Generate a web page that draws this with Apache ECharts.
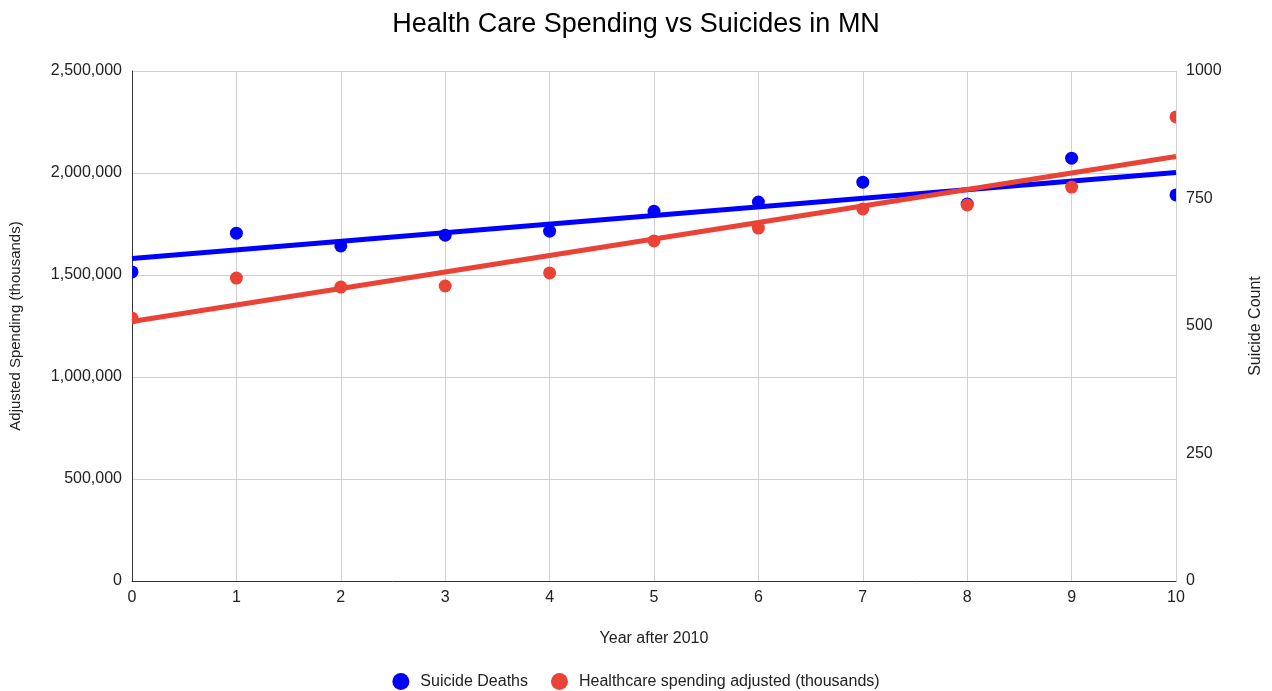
<!DOCTYPE html>
<html>
<head>
<meta charset="utf-8">
<script src="https://cdn.jsdelivr.net/npm/echarts@6/dist/echarts.min.js"></script>
<style>
html,body{margin:0;padding:0;background:#fff;}
#chart{width:1272px;height:691px;}
</style>
</head>
<body>
<div id="chart"></div>
<script>
// Data
const years = [0, 1, 2, 3, 4, 5, 6, 7, 8, 9, 10];
const suicideDeaths = [606, 682, 657, 678, 686, 725, 743, 782, 739, 829, 757];
const healthSpending = [1289000, 1485000, 1441000, 1446000, 1510000, 1667000, 1730000, 1824000, 1843000, 1931000, 2275000];
const leftTicks = [0, 500000, 1000000, 1500000, 2000000, 2500000];
const rightTicks = [0, 250, 500, 750, 1000];

function linReg(xs, ys) {
  const n = xs.length;
  const mx = xs.reduce((a, b) => a + b, 0) / n;
  const my = ys.reduce((a, b) => a + b, 0) / n;
  let num = 0, den = 0;
  for (let i = 0; i < n; i++) { num += (xs[i] - mx) * (ys[i] - my); den += (xs[i] - mx) ** 2; }
  const m = num / den, b = my - m * mx;
  const x0 = xs[0], x1 = xs[n - 1];
  return [[x0, m * x0 + b], [x1, m * x1 + b]];
}

const BLUE = '#0000ff';
const RED = '#ea4335';
const FONT = '"Liberation Sans", Arial, sans-serif';
const DOT_R = 6.5;

function dotRenderer(color) {
  return function (params, api) {
    const p = api.coord([api.value(0), api.value(1)]);
    const cs = params.coordSys;
    return {
      type: 'circle',
      shape: { cx: p[0], cy: p[1], r: DOT_R },
      style: { fill: color },
      clipPath: { type: 'rect', shape: { x: cs.x, y: cs.y, width: cs.width, height: cs.height } }
    };
  };
}

const chart = echarts.init(document.getElementById('chart'));
chart.setOption({
  backgroundColor: '#fff',
  animation: false,
  textStyle: { fontFamily: FONT },
  title: {
    text: 'Health Care Spending vs Suicides in MN',
    left: 'center', top: 6,
    textStyle: { fontFamily: FONT, fontSize: 27, fontWeight: 'normal', color: '#000' }
  },
  legend: {
    data: [
      { name: 'Suicide Deaths', icon: 'circle', itemStyle: { color: BLUE } },
      { name: 'Healthcare spending adjusted (thousands)', icon: 'circle', itemStyle: { color: RED } }
    ],
    top: 668, left: 'center',
    itemWidth: 17, itemHeight: 17, itemGap: 23,
    textStyle: { fontFamily: FONT, fontSize: 16, color: '#222', padding: [0, 0, 0, 6] }
  },
  grid: { left: 132, right: 92, top: 71, bottom: 110 },
  xAxis: {
    type: 'value', min: 0, max: 10, interval: 1,
    name: 'Year after 2010', nameLocation: 'middle', nameGap: 50,
    nameTextStyle: { fontFamily: FONT, fontSize: 16, color: '#222' },
    axisLine: { show: true, lineStyle: { color: '#333', width: 1 } },
    axisTick: { show: false },
    axisLabel: { fontFamily: FONT, fontSize: 16, color: '#222', margin: 9 },
    splitLine: { show: true, lineStyle: { color: '#d0d0d0', width: 1 } }
  },
  yAxis: [
    {
      type: 'value', min: leftTicks[0], max: leftTicks[leftTicks.length - 1], interval: leftTicks[1] - leftTicks[0],
      name: 'Adjusted Spending (thousands)', nameLocation: 'middle', nameGap: 109,
      nameTextStyle: { fontFamily: FONT, fontSize: 15, color: '#222' },
      axisLine: { show: true, lineStyle: { color: '#333', width: 1 } },
      axisTick: { show: false },
      axisLabel: { fontFamily: FONT, fontSize: 16, color: '#222', margin: 10,
        formatter: v => v.toLocaleString('en-US') },
      splitLine: { show: true, lineStyle: { color: '#d0d0d0', width: 1 } }
    },
    {
      type: 'value', min: rightTicks[0], max: rightTicks[rightTicks.length - 1], interval: rightTicks[1] - rightTicks[0],
      name: 'Suicide Count', nameLocation: 'middle', nameGap: 72, nameRotate: 90,
      nameTextStyle: { fontFamily: FONT, fontSize: 16, color: '#222' },
      axisLine: { show: false },
      axisTick: { show: false },
      axisLabel: { fontFamily: FONT, fontSize: 16, color: '#222', margin: 10, align: 'left',
        formatter: v => String(v) },
      splitLine: { show: false }
    }
  ],
  series: [
    {
      name: 'Suicide Deaths Trend', type: 'line', yAxisIndex: 1, silent: true,
      data: linReg(years, suicideDeaths), showSymbol: false, clip: true, z: 2,
      lineStyle: { color: BLUE, width: 5 }, itemStyle: { color: BLUE }
    },
    {
      name: 'Healthcare Trend', type: 'line', yAxisIndex: 0, silent: true,
      data: linReg(years, healthSpending), showSymbol: false, clip: true, z: 2,
      lineStyle: { color: RED, width: 5 }, itemStyle: { color: RED }
    },
    {
      name: 'Suicide Deaths', type: 'custom', yAxisIndex: 1, z: 3,
      itemStyle: { color: BLUE },
      renderItem: dotRenderer(BLUE),
      encode: { x: 0, y: 1 },
      data: years.map((x, i) => [x, suicideDeaths[i]])
    },
    {
      name: 'Healthcare spending adjusted (thousands)', type: 'custom', yAxisIndex: 0, z: 3,
      itemStyle: { color: RED },
      renderItem: dotRenderer(RED),
      encode: { x: 0, y: 1 },
      data: years.map((x, i) => [x, healthSpending[i]])
    }
  ]
});
</script>
</body>
</html>
